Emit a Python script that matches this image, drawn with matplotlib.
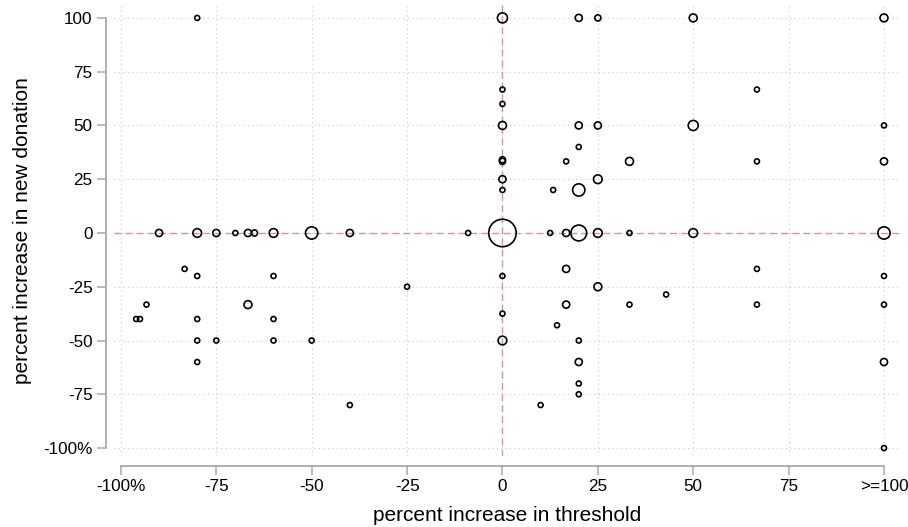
#Scatter of threshold change vs. donation change, marker area ~ number of obs
import matplotlib
matplotlib.use('Agg')
import matplotlib.pyplot as plt
import numpy as np

# percent increase in threshold (x), percent increase in new donation (y), count (w)
thresh = [-80, 0, 20, 25, 50, 100,
          0, 66.7, 0, 0, 20, 25, 50, 100,
          20, 0, 0, 16.7, 33.3, 66.7, 100,
          0, 25, 0, 13.3, 20,
          -90, -80, -75, -70, -66.7, -65, -60, -50, -40, -9, 0,
          12.5, 16.7, 20, 25, 33.3, 50, 100,
          -83.3, 16.7, 66.7,
          -80, -60, 0, 100,
          -25, 25, 42.9,
          -93.3, -66.7, 16.7, 33.3, 66.7, 100,
          0,
          -96, -95, -80, -60, 14.3,
          -80, -75, -60, -50, 0, 20,
          -80, 20, 100,
          20, 20,
          -40, 10,
          100]
donation = [100, 100, 100, 100, 100, 100,
            66.7, 66.7, 60, 50, 50, 50, 50, 50,
            40, 33.3, 34, 33.3, 33.3, 33.3, 33.3,
            25, 25, 20, 20, 20,
            0, 0, 0, 0, 0, 0, 0, 0, 0, 0, 0,
            0, 0, 0, 0, 0, 0, 0,
            -16.7, -16.7, -16.7,
            -20, -20, -20, -20,
            -25, -25, -28.6,
            -33.3, -33.3, -33.3, -33.3, -33.3, -33.3,
            -37.5,
            -40, -40, -40, -40, -42.9,
            -50, -50, -50, -50, -50, -50,
            -60, -60, -60,
            -70, -75,
            -80, -80,
            -100]
count = [1, 4, 2, 1.5, 2.5, 2.5,
         1, 1, 1, 2.5, 2, 2, 4, 1,
         1, 1.5, 1.5, 1, 2.5, 1, 2,
         2, 3, 1, 1, 6,
         2, 3, 2, 1, 2, 1.5, 3, 6, 2, 1, 30,
         1, 2, 10, 3, 1, 3, 6,
         1, 2, 1,
         1, 1, 1, 1,
         1, 2.5, 1,
         1, 2.5, 2, 1, 1, 1,
         1,
         1, 1, 1, 1, 1,
         1, 1, 1, 1, 3, 1,
         1, 2, 2,
         1, 1,
         1, 1,
         1]

xticks = [-100, -75, -50, -25, 0, 25, 50, 75, 100]
xticklabels = ['-100%', '-75', '-50', '-25', '0', '25', '50', '75', '>=100']
yticks = [-100, -75, -50, -25, 0, 25, 50, 75, 100]
yticklabels = ['-100%', '-75', '-50', '-25', '0', '25', '50', '75', '100']

plt.rcParams['font.family'] = ['Liberation Sans', 'DejaVu Sans']

fig = plt.figure(figsize=(9.08, 5.27), dpi=100)
ax = fig.add_axes([0.1256, 0.1347, 0.8656, 0.8558])

gridc = '#c8c8c8'
axc = '#a8a8a8'
refc = '#d68fbb'

ax.set_xlim(-101.8, 104.2)
ax.set_ylim(-103.7, 106)

ax.set_xticks(xticks)
ax.set_xticklabels(xticklabels)
ax.set_yticks(yticks)
ax.set_yticklabels(yticklabels)

ax.grid(True, color=gridc, linestyle=(0, (1, 3)), linewidth=0.8, zorder=0)
ax.set_axisbelow(True)

ax.axhline(0, color=refc, linestyle=(0, (5, 3)), linewidth=1.0, zorder=1)
ax.axvline(0, color=refc, linestyle=(0, (5, 3)), linewidth=1.0, zorder=1)

ax.scatter(thresh, donation, s=np.array(count) * 13, facecolors='none',
           edgecolors='black', linewidths=1.2, zorder=3)

for s in ['top', 'right']:
    ax.spines[s].set_visible(False)
ax.spines['left'].set_position(('outward', 6))
ax.spines['bottom'].set_position(('outward', 7))
ax.spines['left'].set_bounds(-100, 100)
ax.spines['bottom'].set_bounds(-100, 100)
for s in ['left', 'bottom']:
    ax.spines[s].set_color(axc)
    ax.spines[s].set_linewidth(1.3)

ax.tick_params(axis='both', direction='out', length=6.3, width=1.1, color=axc,
               labelsize=12.3, labelcolor='black', pad=3.2)

ax.set_xlabel('percent increase in threshold', fontsize=15, labelpad=9)
ax.set_ylabel('percent increase in new donation', fontsize=15, labelpad=8)

plt.savefig('out.png', dpi=100)
